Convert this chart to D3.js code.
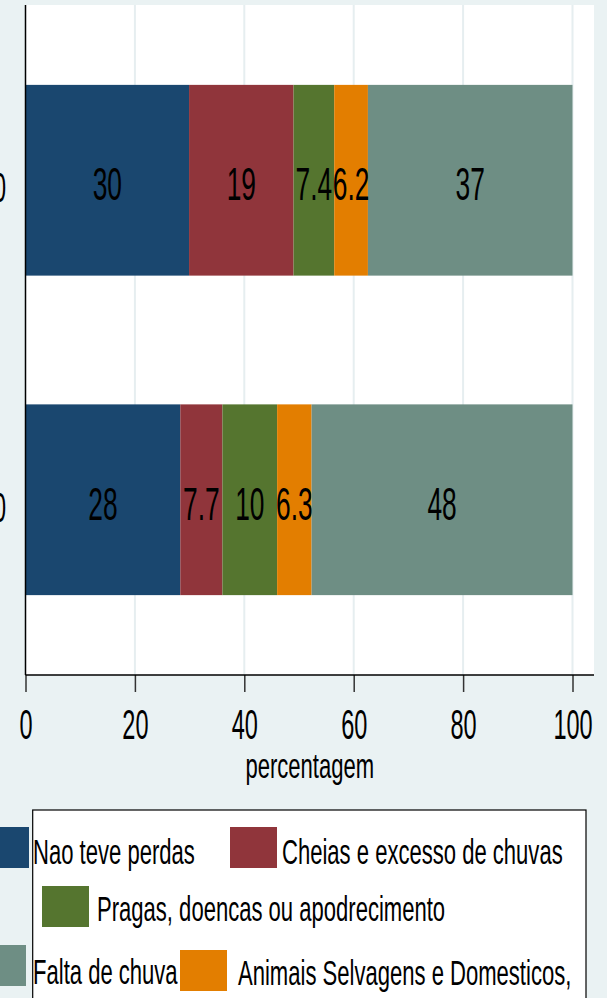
<!DOCTYPE html>
<html>
<head>
<meta charset="utf-8">
<script src="https://cdn.jsdelivr.net/npm/d3@7"></script>
<style>
  html, body { margin: 0; padding: 0; background: #eaf2f3; overflow: hidden; }
  svg { display: block; }
  text { font-family: "Liberation Sans", Arial, sans-serif; fill: #000; }
</style>
</head>
<body>
<svg id="vis" width="607" height="998"></svg>
<script>
// data (category labels are cut off at the left edge)
const categories = ['0', '0'];
const seriesNames = [
  'Nao teve perdas',
  'Cheias e excesso de chuvas',
  'Pragas, doencas ou apodrecimento',
  'Animais Selvagens e Domesticos,',
  'Falta de chuva'
];
const seriesColors = ['#1a476f', '#90353b', '#55752f', '#e37e00', '#6e8e84'];
const group1 = [29.9, 19.1, 7.44, 6.16, 37.4];
const group2 = [28.3, 7.7, 10.0, 6.3, 47.7];
const xTicks = [0, 20, 40, 60, 80, 100];
const xTitle = 'percentagem';

// legend as stata laid it out (it overflows its box)
const legendRows = [
  {y: 827, items: [{s: 0, kx: -18, tx: 33}, {s: 1, kx: 230, tx: 282}], base: 864},
  {y: 886, items: [{s: 2, kx: 42, tx: 97}], base: 921},
  {y: 945, items: [{s: 4, kx: -21, tx: 33}, {s: 3, kx: 180, tx: 238, dy: 5}], base: 984}
];

const rows = [group1, group2];
const kDigits = 0.56;   // stata's squeezed type
const kText = 0.63;

const plot = {left: 25.5, right: 594, top: 5, bottom: 675};

const svg = d3.select('#vis');

const x = d3.scaleLinear().domain([0, 100]).range([25.5, 572.5]);
const y = d3.scaleBand().domain(d3.range(categories.length))
  .range([plot.top, plot.bottom])
  .paddingInner(0.403).paddingOuter(0.25);

const stack = d3.stack().keys(d3.range(seriesNames.length)).value((d, k) => d[k]);
const layers = stack(rows);
const fmt = d3.format('.2');

// plot region
svg.append('rect')
  .attr('x', plot.left).attr('y', plot.top)
  .attr('width', plot.right - plot.left).attr('height', plot.bottom - plot.top)
  .attr('fill', '#fff');

svg.append('g').selectAll('line')
  .data(xTicks.filter(t => t > 0))
  .join('line')
    .attr('x1', d => x(d)).attr('x2', d => x(d))
    .attr('y1', plot.top).attr('y2', plot.bottom)
    .attr('stroke', '#e6eef0').attr('stroke-width', 2);

// bars
const layerG = svg.append('g').selectAll('g')
  .data(layers)
  .join('g')
    .attr('fill', (d, i) => seriesColors[i]);

layerG.selectAll('rect')
  .data(d => d.map((seg, j) => ({seg, j})))
  .join('rect')
    .attr('x', d => x(d.seg[0]))
    .attr('width', d => x(d.seg[1]) - x(d.seg[0]))
    .attr('y', d => y(d.j))
    .attr('height', y.bandwidth());

// bar labels
svg.append('g').selectAll('text')
  .data(layers.flatMap((layer, i) => layer.map((seg, j) => ({seg, j, v: rows[j][i]}))))
  .join('text')
    .attr('text-anchor', 'middle')
    .attr('font-size', 47)
    .attr('transform', d => `translate(${x((d.seg[0] + d.seg[1]) / 2)},${y(d.j) + y.bandwidth() / 2 + 20}) scale(${kDigits},1)`)
    .text(d => fmt(d.v));

// y axis
svg.append('line')
  .attr('x1', plot.left).attr('x2', plot.left)
  .attr('y1', plot.top).attr('y2', plot.bottom)
  .attr('stroke', '#000').attr('stroke-width', 1.5);

svg.append('g').selectAll('text')
  .data(categories)
  .join('text')
    .attr('text-anchor', 'end')
    .attr('font-size', 42)
    .attr('transform', (d, i) => `translate(6,${y(i) + y.bandwidth() / 2 + 22}) scale(${kDigits},1)`)
    .text(d => d);

// x axis
const xAxis = svg.append('g')
  .attr('transform', `translate(0,${plot.bottom})`)
  .call(d3.axisBottom(x).tickValues(xTicks).tickSize(17).tickSizeOuter(0));
xAxis.select('.domain').remove();
xAxis.selectAll('.tick line').attr('stroke', '#333').attr('stroke-width', 1.5);
xAxis.selectAll('.tick text')
  .attr('y', null).attr('dy', null)
  .attr('fill', '#000')
  .attr('font-size', 42)
  .attr('font-family', '"Liberation Sans", Arial, sans-serif')
  .attr('transform', `translate(0,64) scale(${kDigits},1)`);

svg.append('line')
  .attr('x1', plot.left).attr('x2', plot.right)
  .attr('y1', plot.bottom).attr('y2', plot.bottom)
  .attr('stroke', '#000').attr('stroke-width', 1.5);

svg.append('text')
  .attr('text-anchor', 'middle')
  .attr('font-size', 35)
  .attr('transform', `translate(${(plot.left + plot.right) / 2},778) scale(${kText},1)`)
  .text(xTitle);

// legend
svg.append('rect')
  .attr('x', 32.7).attr('y', 810)
  .attr('width', 553.3).attr('height', 220)
  .attr('fill', '#fff').attr('stroke', '#000').attr('stroke-width', 1.2);

const items = legendRows.flatMap(r => r.items.map(it => Object.assign({y: r.y, base: r.base}, it)));
const lg = svg.append('g').selectAll('g').data(items).join('g');
lg.append('rect')
  .attr('x', d => d.kx).attr('y', d => d.y + (d.dy || 0))
  .attr('width', 47).attr('height', 41)
  .attr('fill', d => seriesColors[d.s]);
lg.append('text')
  .attr('font-size', 35)
  .attr('transform', d => `translate(${d.tx},${d.base + (d.dy ? 1 : 0)}) scale(${kText},1)`)
  .text(d => seriesNames[d.s]);
</script>
</body>
</html>
